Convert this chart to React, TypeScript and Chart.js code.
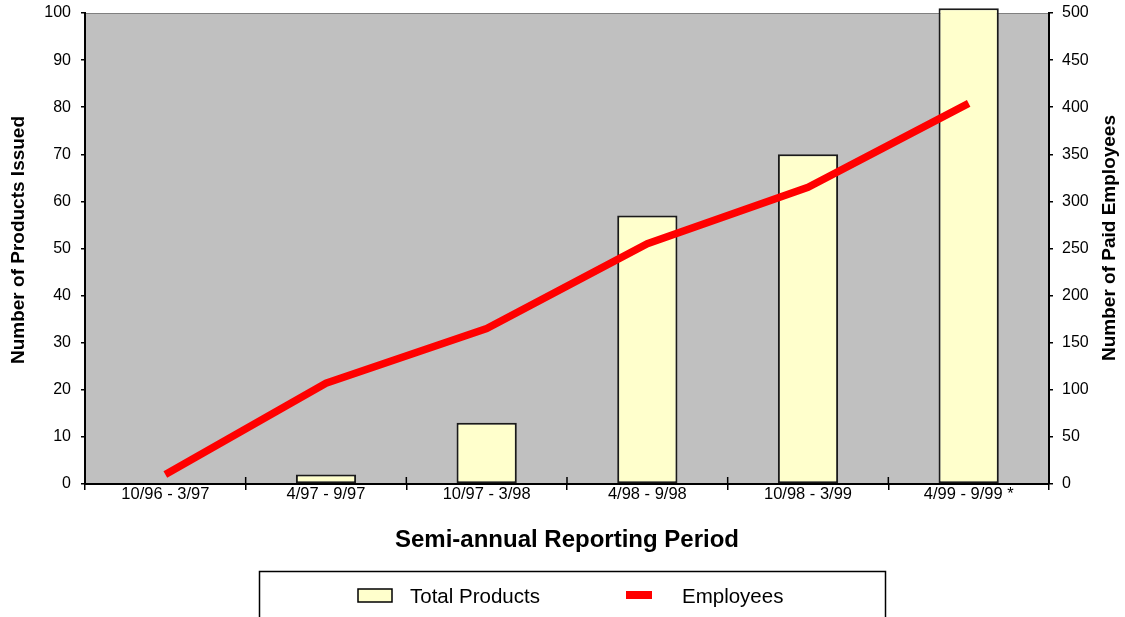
import React, { useEffect, useRef } from 'react';
import { Chart, registerables } from 'chart.js';

Chart.register(...registerables);

const categories = ['10/96 - 3/97', '4/97 - 9/97', '10/97 - 3/98', '4/98 - 9/98', '10/98 - 3/99', '4/99 - 9/99 *'];
const totalProducts = [0, 2, 13, 57, 70, 101];
const employees = [10, 107, 165, 255, 315, 404];
const productAxisMax = 100;
const productAxisStep = 10;
const employeeAxisMax = 500;
const employeeAxisStep = 50;

const FONT = '"Liberation Sans", Arial, sans-serif';

const bgPlugin = {
  id: 'plotBg',
  beforeDraw(chart: any) {
    const { ctx, chartArea: a } = chart;
    ctx.save();
    ctx.fillStyle = '#ffffff';
    ctx.fillRect(0, 0, chart.width, chart.height);
    ctx.fillStyle = '#C0C0C0';
    ctx.fillRect(a.left, a.top, a.right - a.left, a.bottom - a.top);
    ctx.strokeStyle = '#808080';
    ctx.lineWidth = 1;
    ctx.beginPath();
    ctx.moveTo(a.left, a.top + 0.5);
    ctx.lineTo(a.right, a.top + 0.5);
    ctx.stroke();
    ctx.restore();
  },
};

const decorPlugin = {
  id: 'decor',
  afterDraw(chart: any) {
    const { ctx, chartArea: a } = chart;
    const xs = chart.scales.x;
    ctx.save();
    // inner halves of the crossing x-axis tick marks
    ctx.strokeStyle = '#000';
    ctx.lineWidth = 1.5;
    const n = categories.length;
    for (let i = 0; i <= n; i++) {
      let x;
      if (i === 0) x = a.left;
      else if (i === n) x = a.right;
      else x = (xs.getPixelForValue(i - 1) + xs.getPixelForValue(i)) / 2;
      ctx.beginPath();
      ctx.moveTo(x, a.bottom);
      ctx.lineTo(x, a.bottom - 7);
      ctx.stroke();
    }

    // axis titles
    ctx.fillStyle = '#000';
    ctx.textAlign = 'center';
    ctx.textBaseline = 'middle';
    ctx.font = `bold 19px ${FONT}`;
    ctx.save();
    ctx.translate(19, 240);
    ctx.rotate(-Math.PI / 2);
    ctx.fillText('Number of Products Issued', 0, 0);
    ctx.restore();
    ctx.save();
    ctx.translate(1110, 238);
    ctx.rotate(-Math.PI / 2);
    ctx.fillText('Number of Paid Employees', 0, 0);
    ctx.restore();
    ctx.font = `bold 24px ${FONT}`;
    ctx.fillText('Semi-annual Reporting Period', (a.left + a.right) / 2, 540);

    // legend
    ctx.strokeStyle = '#000';
    ctx.lineWidth = 1.5;
    ctx.strokeRect(259.5, 571.5, 626, 80);
    const ds = chart.data.datasets;
    ctx.font = `20.5px ${FONT}`;
    ctx.textAlign = 'left';
    // bar symbol
    ctx.fillStyle = ds[0].backgroundColor;
    ctx.fillRect(358, 589, 34, 13);
    ctx.strokeStyle = '#000';
    ctx.lineWidth = 1.5;
    ctx.strokeRect(358, 589, 34, 13);
    ctx.fillStyle = '#000';
    ctx.fillText(ds[0].label, 410, 597);
    // line symbol
    ctx.fillStyle = ds[1].borderColor;
    ctx.fillRect(626, 591, 26, 8);
    ctx.fillStyle = '#000';
    ctx.fillText(ds[1].label, 682, 597);
    ctx.restore();
  },
};

export default function App() {
  const ref = useRef<HTMLCanvasElement | null>(null);

  useEffect(() => {
    document.body.style.margin = '0';
    const canvas = ref.current;
    if (!canvas) return;
    const chart = new Chart(canvas, {
      type: 'bar',
      data: {
        labels: categories,
        datasets: [
          {
            type: 'bar',
            label: 'Total Products',
            data: totalProducts,
            backgroundColor: '#FFFFCC',
            borderColor: '#1a1a1a',
            borderWidth: 2,
            borderSkipped: false,
            barPercentage: 0.375,
            categoryPercentage: 1,
            yAxisID: 'y',
            order: 1,
            clip: false as any,
          },
          {
            type: 'line',
            label: 'Employees',
            data: employees,
            borderColor: '#FF0000',
            backgroundColor: '#FF0000',
            borderWidth: 7.5,
            pointRadius: 0,
            tension: 0,
            borderCapStyle: 'butt',
            borderJoinStyle: 'miter',
            yAxisID: 'y1',
            order: 0,
          },
        ] as any,
      },
      options: {
        responsive: false,
        animation: false,
        layout: { padding: { top: 13, left: 0, right: 0, bottom: 0 } },
        plugins: {
          legend: { display: false },
          tooltip: { enabled: false },
          title: { display: false },
        },
        scales: {
          x: {
            offset: true,
            grid: {
              offset: true,
              drawOnChartArea: false,
              drawTicks: true,
              tickLength: 6,
              color: '#000',
              lineWidth: 1.5,
            },
            border: { color: '#000', width: 2 },
            ticks: {
              color: '#000',
              font: { family: FONT, size: 16.5 },
              padding: -5,
              maxRotation: 0,
              autoSkip: false,
            },
            afterFit(scale: any) {
              scale.height = 133;
              scale.paddingLeft = 0;
              scale.paddingRight = 0;
            },
          },
          y: {
            position: 'left',
            min: 0,
            max: productAxisMax,
            grid: {
              drawOnChartArea: false,
              drawTicks: true,
              tickLength: 4,
              color: '#000',
              lineWidth: 1.5,
            },
            border: { color: '#000', width: 2 },
            ticks: {
              stepSize: productAxisStep,
              color: '#000',
              font: { family: FONT, size: 16 },
              padding: 10,
            },
            afterFit(scale: any) {
              scale.width = 85;
              scale.paddingTop = 0;
              scale.paddingBottom = 0;
            },
          },
          y1: {
            position: 'right',
            min: 0,
            max: employeeAxisMax,
            grid: {
              drawOnChartArea: false,
              drawTicks: true,
              tickLength: 4,
              color: '#000',
              lineWidth: 1.5,
            },
            border: { color: '#000', width: 2 },
            ticks: {
              stepSize: employeeAxisStep,
              color: '#000',
              font: { family: FONT, size: 16 },
              padding: 9,
            },
            afterFit(scale: any) {
              scale.width = 76;
              scale.paddingTop = 0;
              scale.paddingBottom = 0;
            },
          },
        },
      } as any,
      plugins: [bgPlugin, decorPlugin],
    });
    return () => chart.destroy();
  }, []);

  return (
    <canvas
      ref={ref}
      width={1125}
      height={617}
      style={{ display: 'block', width: 1125, height: 617 }}
    />
  );
}
